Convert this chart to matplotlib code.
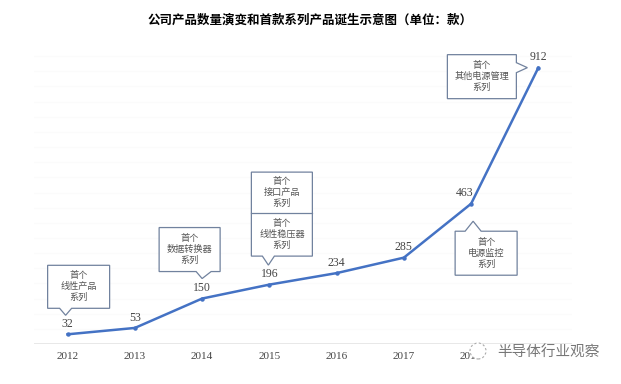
import matplotlib
matplotlib.use('Agg')
import matplotlib.pyplot as plt
from matplotlib.patches import Polygon, Circle

# Datos
years = ['2012', '2013', '2014', '2015', '2016', '2017', '2018', '2019']
counts = [32, 53, 150, 196, 234, 285, 463, 912]
title = '公司产品数量演变和首款系列产品诞生示意图（单位：款）'

# Textos de los recuadros (índice del año -> líneas)
notes = {
    0: ['首个', '线性产品', '系列'],
    2: ['首个', '数据转换器', '系列'],
    3: ['首个', '线性稳压器', '系列'],
    6: ['首个', '电源监控', '系列'],
    7: ['首个', '其他电源管理', '系列'],
}
note_top_2015 = ['首个', '接口产品', '系列']

cjk = ['Noto Sans CJK SC', 'DejaVu Sans']
serif = 'Liberation Serif'

W, H = 621, 384
fig = plt.figure(figsize=(W / 100, H / 100), dpi=100)
ax = fig.add_axes([34 / W, 40 / H, 538 / W, 303 / H])

x = list(range(len(years)))
ax.plot(x, counts, color='#4472C4', lw=1.8, marker='o', ms=2.2, zorder=3)
ax.set_xlim(-0.5, len(years) - 0.5)
ax.set_ylim(0, 1000)

# Rejilla casi invisible y línea base
for g in range(50, 1000, 50):
    ax.axhline(g, color='#fbfbfb', lw=0.8, zorder=0)
ax.axhline(0, color='#e6e6e6', lw=2, zorder=1)

for s in ax.spines.values():
    s.set_visible(False)
ax.set_yticks([])
ax.set_xticks(x)
ax.set_xticklabels(years, fontfamily=serif, fontsize=8, color='#444444')
ax.tick_params(axis='x', length=0, pad=6)

# Etiquetas de valores
for i, v in enumerate(counts):
    dx = -5 if i == 6 else 0
    ax.annotate(str(v), (i, v), xytext=(dx, 7.5), textcoords='offset points',
                ha='center', va='center', fontfamily=serif, fontsize=8.5, color='#444444')

fig.text(310 / W, 1 - 20 / H, title, ha='center', va='center',
         fontfamily=cjk, fontweight='bold', fontsize=9)

fig.canvas.draw()


def px(i, v):
    return ax.transData.transform((i, v))


def callout(i, v, box, pointer, lines, divider=None, lines2=None):
    # box = (x0, x1, y0, y1) en píxeles relativos al punto
    cx, cy = px(i, v)
    x0, x1, y0, y1 = box
    kind, a, b, tip = pointer
    if kind == 'bottom':
        pts = [(x0, y0), (a, y0), tip, (b, y0), (x1, y0), (x1, y1), (x0, y1)]
    elif kind == 'top':
        pts = [(x0, y0), (x1, y0), (x1, y1), (b, y1), tip, (a, y1), (x0, y1)]
    else:  # right
        pts = [(x0, y0), (x1, y0), (x1, a), tip, (x1, b), (x1, y1), (x0, y1)]
    pts = [(cx + p[0], cy + p[1]) for p in pts]
    poly = Polygon(pts, closed=True, transform=None, facecolor='white',
                   edgecolor='#71829e', lw=0.9, zorder=4)
    fig.patches.append(poly)

    def put(ya, yb, txt):
        fig.text((cx + (x0 + x1) / 2) / W, (cy + (ya + yb) / 2) / H, '\n'.join(txt),
                 ha='center', va='center', fontfamily=cjk, fontsize=6.6,
                 color='#555555', linespacing=1.25, zorder=5)

    if divider is None:
        put(y0, y1, lines)
    else:
        fig.lines.append(plt.Line2D([(cx + x0) / W, (cx + x1) / W],
                                    [(cy + divider) / H] * 2, transform=fig.transFigure,
                                    color='#71829e', lw=0.9, zorder=5))
        put(y0, divider, lines)
        put(divider, y1, lines2)


callout(0, counts[0], (-20, 42, 26, 69), ('bottom', -8, 4, (-2, 19)), notes[0])
callout(2, counts[2], (-43, 18, 27, 71), ('bottom', -6, 9, (0, 20)), notes[2])
callout(3, counts[3], (-18, 43, 28.5, 112.5), ('bottom', -7, 5, (-1, 19.5)), notes[3],
        divider=71.5, lines2=note_top_2015)
callout(6, counts[6], (-16, 46, -71.5, -27.5), ('top', -6, 10, (2, -17.5)), notes[6])
callout(7, counts[7], (-91, -22, -31, 13), ('right', -5, 5, (-11, 0)), notes[7])

# Marca de agua (tapa parte de las etiquetas 2018 y 2019, como en el original)
fig.patches.append(Circle((478, H - 351), 8, transform=None,
                          facecolor='white', edgecolor='#aaaaaa', ls=(0, (2, 2)),
                          lw=0.8, zorder=6))
fig.text(497 / W, 1 - 353 / H, '半导体行业观察', ha='left', va='center',
         fontfamily=cjk, fontsize=10.5, color='#777777', zorder=7,
         bbox=dict(facecolor='white', edgecolor='none', pad=1))

fig.savefig('out.png', dpi=100)
